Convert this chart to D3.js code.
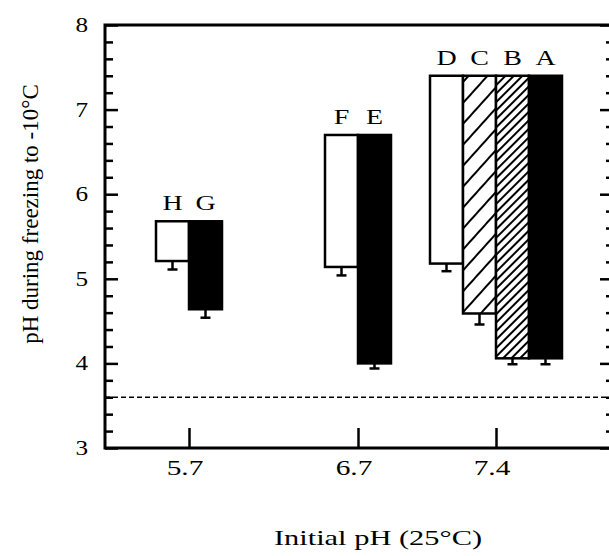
<!DOCTYPE html>
<html>
<head>
<meta charset="utf-8">
<script src="https://cdn.jsdelivr.net/npm/d3@7/dist/d3.min.js"></script>
<style>
  html, body { margin: 0; padding: 0; background: #fff; }
  svg { display: block; }
</style>
</head>
<body>
<svg id="chart" width="609" height="556" font-family="'Liberation Serif', 'Times New Roman', Times, 'DejaVu Serif', serif"></svg>
<script>
// ---- data ----
const categories = ["5.7", "6.7", "7.4"];
const barLabels  = ["H", "G", "F", "E", "D", "C", "B", "A"];
const barGroup   = ["5.7", "5.7", "6.7", "6.7", "7.4", "7.4", "7.4", "7.4"];
const initialPH  = [5.68, 5.68, 6.7, 6.7, 7.4, 7.4, 7.4, 7.4];
const minPH      = [5.21, 4.64, 5.14, 4.00, 5.18, 4.59, 4.06, 4.06];
const minErr     = [0.10, 0.10, 0.10, 0.06, 0.09, 0.13, 0.07, 0.07];
const barFill    = ["open", "solid", "open", "solid", "open", "sparse", "dense", "solid"];
const yMajorTicks = [3, 4, 5, 6, 7, 8];
const refLine = 3.6;

// ---- layout ----
const L = 105, R = 612, T = 25, B = 448;
const barW = 33;
const sxText = 1.4;

const svg = d3.select("#chart");
const defs = svg.append("defs");

function hatch(id, spacing, width, angle) {
  const p = defs.append("pattern")
    .attr("id", id).attr("patternUnits", "userSpaceOnUse")
    .attr("width", spacing).attr("height", spacing)
    .attr("patternTransform", `rotate(${angle})`);
  p.append("rect").attr("width", spacing).attr("height", spacing).attr("fill", "#fff");
  p.append("line").attr("x1", spacing / 2).attr("x2", spacing / 2)
    .attr("y1", 0).attr("y2", spacing)
    .attr("stroke", "#000").attr("stroke-width", width);
}
hatch("sparse", 14, 2, 42);
hatch("dense", 6, 2, 45);

const y = d3.scaleLinear().domain([3, 8]).range([B, T]);
const x = d3.scaleOrdinal().domain(categories).range([189, 358, 496]);

const yMinor = d3.range(3, 8.001, 0.2).map(v => +v.toFixed(1)).filter(v => !yMajorTicks.includes(v));

const bars = barLabels.map((lab, i) => {
  const g = barGroup[i];
  const members = barGroup.map((gg, j) => gg === g ? j : -1).filter(j => j >= 0);
  const k = members.indexOf(i);
  const x0 = x(g) + (k - members.length / 2) * barW;
  return { lab, x0, top: initialPH[i], bot: minPH[i], err: minErr[i], fill: barFill[i] };
});

// bars
const fillOf = f => f === "solid" ? "#000" : f === "open" ? "#fff" : `url(#${f})`;
svg.append("g").selectAll("rect").data(bars).join("rect")
  .attr("x", d => d.x0).attr("width", barW)
  .attr("y", d => y(d.top)).attr("height", d => y(d.bot) - y(d.top))
  .attr("fill", d => fillOf(d.fill))
  .attr("stroke", "#000").attr("stroke-width", 2.5);

// error bars
const eb = svg.append("g").attr("stroke", "#000").attr("stroke-width", 2.5);
eb.selectAll("line.stem").data(bars).join("line").attr("class", "stem")
  .attr("x1", d => d.x0 + barW / 2).attr("x2", d => d.x0 + barW / 2)
  .attr("y1", d => y(d.bot)).attr("y2", d => y(d.bot - d.err));
eb.selectAll("line.cap").data(bars).join("line").attr("class", "cap")
  .attr("x1", d => d.x0 + barW / 2 - 5).attr("x2", d => d.x0 + barW / 2 + 5)
  .attr("y1", d => y(d.bot - d.err)).attr("y2", d => y(d.bot - d.err));

// letters
svg.append("g").selectAll("text").data(bars).join("text")
  .attr("transform", d => `translate(${d.x0 + barW / 2},${y(d.top) - 11}) scale(${sxText},1)`)
  .attr("text-anchor", "middle").attr("font-size", 20)
  .text(d => d.lab);

// dashed reference line
svg.append("line")
  .attr("x1", L).attr("x2", R).attr("y1", y(refLine)).attr("y2", y(refLine))
  .attr("stroke", "#000").attr("stroke-width", 1.5).attr("stroke-dasharray", "5,3");

// frame
svg.append("rect").attr("x", L).attr("y", T).attr("width", R - L).attr("height", B - T)
  .attr("fill", "none").attr("stroke", "#000").attr("stroke-width", 3);

// left axis ticks
const leftMajor = d3.axisRight(y).tickValues(yMajorTicks).tickSize(13).tickFormat("");
const leftMinor = d3.axisRight(y).tickValues(yMinor).tickSize(8).tickFormat("");
const gl1 = svg.append("g").attr("transform", `translate(${L},0)`).call(leftMajor);
const gl2 = svg.append("g").attr("transform", `translate(${L},0)`).call(leftMinor);
// right axis ticks
const rightMajor = d3.axisLeft(y).tickValues(yMajorTicks).tickSize(12).tickFormat("");
const rightMinor = d3.axisLeft(y).tickValues(yMinor).tickSize(6).tickFormat("");
const gr1 = svg.append("g").attr("transform", `translate(${R},0)`).call(rightMajor);
const gr2 = svg.append("g").attr("transform", `translate(${R},0)`).call(rightMinor);
[gl1, gl2, gr1, gr2].forEach(g => {
  g.attr("font-family", null);
  g.select(".domain").remove();
  g.selectAll(".tick line").attr("stroke", "#000").attr("stroke-width", 2.5);
});

// y tick labels
svg.append("g").selectAll("text").data(yMajorTicks).join("text")
  .attr("transform", d => `translate(88,${y(d) + 7}) scale(1.2,1)`)
  .attr("text-anchor", "end").attr("font-size", 21)
  .text(d => d);

// x axis ticks
const xAxis = d3.axisTop(x).tickSize(20).tickFormat("");
const gx = svg.append("g").attr("transform", `translate(0,${B})`).call(xAxis);
gx.attr("font-family", null);
gx.select(".domain").remove();
gx.selectAll(".tick line").attr("stroke", "#000").attr("stroke-width", 2.5);

// x tick labels
svg.append("g").selectAll("text").data(categories).join("text")
  .attr("transform", d => `translate(${x(d) - 4},475) scale(${sxText},1)`)
  .attr("text-anchor", "middle").attr("font-size", 21)
  .text(d => d);

// axis titles
svg.append("text")
  .attr("transform", `translate(378,545) scale(1.45,1)`)
  .attr("text-anchor", "middle").attr("font-size", 21)
  .text("Initial pH (25°C)");
svg.append("text")
  .attr("transform", `translate(38,214) rotate(-90)`)
  .attr("text-anchor", "middle").attr("font-size", 23)
  .text("pH during freezing to -10°C");
</script>
</body>
</html>
